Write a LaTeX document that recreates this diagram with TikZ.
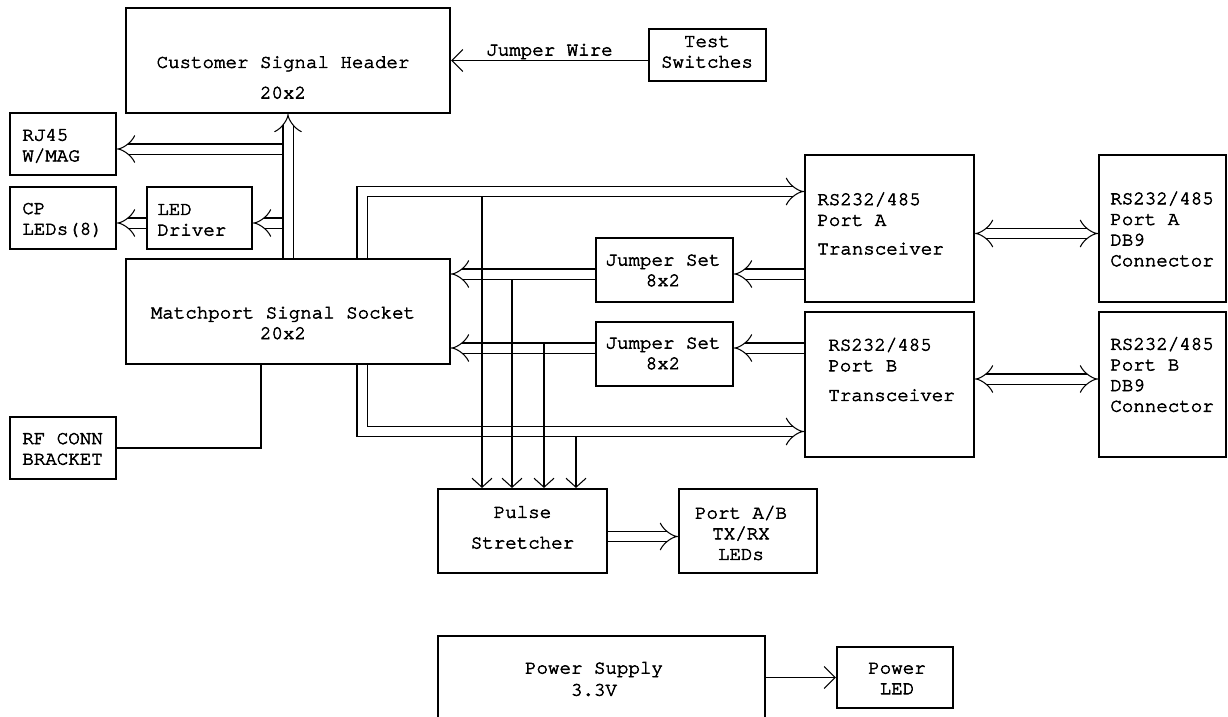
\documentclass[tikz,border=0pt]{standalone}
\usepackage{fontspec}
\usepackage{tikz}
\usetikzlibrary{arrows.meta, positioning, calc, backgrounds}
\newfontfamily\blockfont{TeX Gyre Cursor}[FakeBold=3]

\begin{document}
\begin{tikzpicture}[x=0.02cm, y=-0.02cm,
    box/.style={rectangle, draw=black, line width=1.2pt, inner sep=0pt},
    txt/.style={font=\blockfont\fontsize{10.9}{11.75}\selectfont, inner sep=0pt},
    bus/.style={double, double distance=0.18cm, line width=0.6pt, -{Implies}},
    wire/.style={line width=0.6pt, -{Straight Barb[length=2.2mm, width=4.4mm]}},
    tap/.style={line width=0.6pt, -{Straight Barb[length=1.8mm, width=4mm]}}
]
\useasboundingbox (0,0) rectangle (1228,717);
\clip (0,0) rectangle (1228,717);

% Blocks
\node[box, minimum width=6.48cm, minimum height=2.1cm] (csh) at (288,60.5) {};
\node[box, minimum width=2.34cm, minimum height=1.04cm] (tsw) at (707.5,55) {};
\node[box, minimum width=2.12cm, minimum height=1.24cm] (rj45) at (63,144) {};
\node[box, minimum width=2.12cm, minimum height=1.24cm] (cpled) at (63,218) {};
\node[box, minimum width=2.1cm, minimum height=1.24cm] (ledd) at (199.5,218) {};
\node[box, minimum width=6.48cm, minimum height=2.1cm] (msock) at (288,311.5) {};
\node[box, minimum width=2.74cm, minimum height=1.28cm] (jmpa) at (664.5,270) {};
\node[box, minimum width=2.74cm, minimum height=1.28cm] (jmpb) at (664.5,354) {};
\node[box, minimum width=3.38cm, minimum height=2.94cm] (xcva) at (889.5,228.5) {};
\node[box, minimum width=3.38cm, minimum height=2.9cm] (xcvb) at (889.5,384.5) {};
\node[box, minimum width=2.54cm, minimum height=2.94cm] (db9a) at (1162.5,228.5) {};
\node[box, minimum width=2.54cm, minimum height=2.9cm] (db9b) at (1162.5,384.5) {};
\node[box, minimum width=2.12cm, minimum height=1.24cm] (rfc) at (63,448) {};
\node[box, minimum width=3.38cm, minimum height=1.68cm] (pstr) at (522.5,531) {};
\node[box, minimum width=2.76cm, minimum height=1.68cm] (txled) at (748,531) {};
\node[box, minimum width=6.54cm, minimum height=2.08cm] (psup) at (601.5,688) {};
\node[box, minimum width=2.32cm, minimum height=1.22cm] (pled) at (895,677.5) {};

% Block texts
\node[txt, align=center] (csh-t) at (283,77.5) {Customer Signal Header\\[0.2cm]20x2};
\node[txt, align=center] (tsw-t) at (707,52) {Test\\Switches};
\node[txt, align=left, anchor=west] (rj45-t) at (22,146) {RJ45\\W/MAG};
\node[txt, align=left, anchor=west] (cpled-t) at (22,220) {CP\\LEDs(8)};
\node[txt, align=left, anchor=west] (ledd-t) at (157,220) {LED\\Driver};
\node[txt, align=center] (msock-t) at (283,323) {Matchport Signal Socket\\20x2};
\node[txt, align=center] (jmpa-t) at (663,270.5) {Jumper Set\\8x2};
\node[txt, align=center] (jmpb-t) at (663,353.5) {Jumper Set\\8x2};
\node[txt, align=left, anchor=west] (xcva-t) at (817,223.5) {RS232/485\\Port A\\[0.16cm]Transceiver};
\node[txt, align=left, anchor=west] (xcvb-t) at (828,369.5) {RS232/485\\Port B\\[0.18cm]Transceiver};
\node[txt, align=left, anchor=west] (db9a-t) at (1110,229) {RS232/485\\Port A\\DB9\\Connector};
\node[txt, align=left, anchor=west] (db9b-t) at (1110,374.5) {RS232/485\\Port B\\DB9\\Connector};
\node[txt, align=left, anchor=west] (rfc-t) at (22,449) {RF CONN\\BRACKET};
\node[txt, align=center] (pstr-t) at (522.5,527.5) {Pulse\\[0.2cm]Stretcher};
\node[txt, align=center] (txled-t) at (741,533) {Port A/B\\TX/RX\\LEDs};
\node[txt, align=center] (psup-t) at (594,679) {Power Supply\\[0.03cm]3.3V};
\node[txt, align=center] (pled-t) at (897,678.5) {Power\\LED};

% Bus rows and rails
\coordinate (vb) at (288,0);
\coordinate (topbus) at (362,191.5);
\coordinate (botbus) at (362,431.5);
\coordinate (rowrj) at (0,149);
\coordinate (rowled) at (0,223);
\coordinate (rowa) at (0,274);
\coordinate (rowb) at (0,348);
\coordinate (rowdba) at (0,233.5);
\coordinate (rowdbb) at (0,379);
\coordinate (rowps) at (0,536.5);
\coordinate (rfx) at (261,0);

\begin{scope}[on background layer]
% Header side
\draw[bus] (vb |- rowrj) -- (rj45.east |- rowrj);
\draw[bus] (vb |- rowled) -- (ledd.east |- rowled);
\draw[bus] (ledd.west |- rowled) -- (cpled.east |- rowled);
\draw[bus] (vb |- msock.north) -- (vb |- csh.south);
\draw[wire] (tsw.west |- csh.east) -- node[txt, above=0.5pt] (jw) {Jumper Wire} (csh.east);

% Port buses
\draw[bus] (msock.north -| topbus) |- (topbus -| xcva.west);
\draw[bus] (msock.south -| botbus) |- (botbus -| xcvb.west);
\draw[bus] (xcva.west |- rowa) -- (jmpa.east |- rowa);
\draw[bus] (jmpa.west |- rowa) -- (msock.east |- rowa);
\draw[bus] (xcvb.west |- rowb) -- (jmpb.east |- rowb);
\draw[bus] (jmpb.west |- rowb) -- (msock.east |- rowb);
\draw[bus, {Implies}-{Implies}] (xcva.east |- rowdba) -- (db9a.west |- rowdba);
\draw[bus, {Implies}-{Implies}] (xcvb.east |- rowdbb) -- (db9b.west |- rowdbb);
\draw[bus] (pstr.east |- rowps) -- (txled.west |- rowps);

% RF and power
\draw[line width=0.6pt] (rfc.east) -| (rfx |- msock.south);
\draw[wire] (psup.east |- pled.west) -- (pled.west);

% Taps into the stretcher
\foreach \x/\y in {482/196.5, 512/279, 544/343, 576/436.5}
  \draw[tap] (\x,\y) -- (\x,\y |- pstr.north);
\end{scope}

\end{tikzpicture}
\end{document}
